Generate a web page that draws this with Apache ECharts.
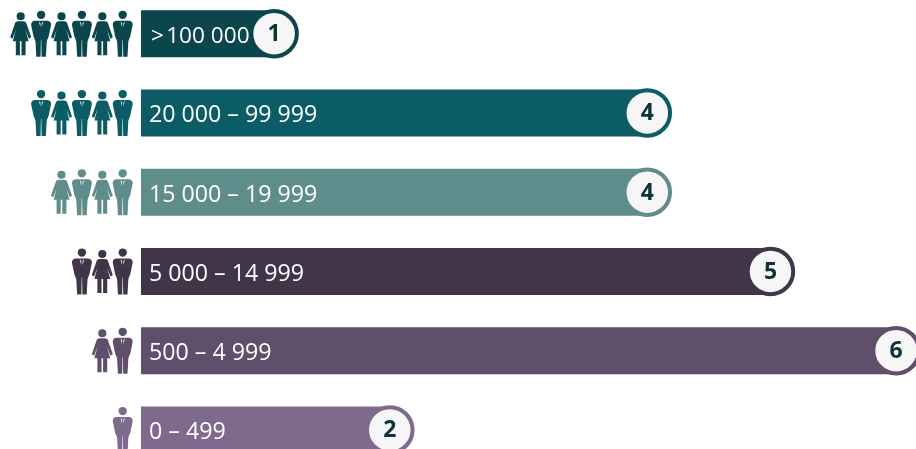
<!DOCTYPE html>
<html><head><meta charset="utf-8">
<style>html,body{margin:0;padding:0;background:#fff;overflow:hidden}#c{width:916px;height:449px}</style>
<script src="https://cdn.jsdelivr.net/npm/echarts@6/dist/echarts.min.js"></script>
</head><body><div id="c"></div>
<script>
const categories = ['>\u200a100 000', '20 000 – 99 999', '15 000 – 19 999', '5 000 – 14 999', '500 – 4 999', '0 – 499'];
const counts = [1, 4, 4, 5, 6, 2];
const barLengths = [1.07, 4.07, 4.07, 5.06, 6.07, 2.0];
const iconCounts = [6, 5, 4, 3, 2, 1];
const colors = ['#0b464c', '#0b5c65', '#5f8d8c', '#41354a', '#5f4f6b', '#7f6a8e'];

const ICON_STEP = 0.164, ICON_START = -0.147;
const MAN = 'path://M10,0A4.2,4.2,0,1,1,9.99,0ZM3.5,10L16.5,10Q20,10.5,20,14L17.5,26Q16,29,15.6,31L14.8,46L10.5,46L10.2,29L9.8,29L9.5,46L5.2,46L4.4,31Q4,29,2.5,26L0,14Q0,10.5,3.5,10ZM7.8,10.6L9.3,16.5L9.3,12.5ZM12.2,10.6L10.7,12.5L10.7,16.5Z';
const WOMAN = 'path://M10.5,0A4.1,4.1,0,1,1,10.49,0ZM7.5,9L13.5,9Q15.2,9,16,10.5L21,25L18.7,26.5L15.4,17.5L18.4,29L15.4,29L15.4,43L11.3,43L11.3,29L9.7,29L9.7,43L5.6,43L5.6,29L2.6,29L5.6,17.5L2.3,26.5L0,25L5,10.5Q5.8,9,7.5,9Z';

const iconData = [];
iconCounts.forEach((n, row) => {
  for (let i = 0; i < n; i++) {
    const isMan = i % 2 === 0;
    iconData.push({
      value: [ICON_START - i * ICON_STEP, row],
      symbol: isMan ? MAN : WOMAN,
      symbolSize: isMan ? [20, 46] : [21, 43],
      itemStyle: { color: colors[row], opacity: 1 }
    });
  }
});

const chart = echarts.init(document.getElementById('c'), null, { renderer: 'canvas' });
chart.setOption({
  animation: false,
  backgroundColor: '#ffffff',
  grid: { left: 0, right: 0, top: -6, height: 475.5, containLabel: false, outerBoundsMode: 'none' },
  xAxis: { type: 'value', min: -1.1334, max: 6.23, show: false },
  yAxis: { type: 'category', inverse: true, data: categories, show: false },
  series: [
    {
      type: 'bar', barWidth: 47, silent: true, z: 2,
      data: barLengths.map((v, i) => ({
        value: v,
        itemStyle: { color: colors[i] },
        label: i === 0 ? { distance: 10, fontSize: 22.6 } : {}
      })),
      label: {
        show: true, position: 'insideLeft', distance: 8, offset: [0, 3],
        formatter: p => categories[p.dataIndex],
        color: '#ffffff', fontFamily: 'Open Sans', fontSize: 23.2
      }
    },
    {
      type: 'scatter', silent: true, z: 3, symbol: 'circle', symbolSize: 45.5,
      data: barLengths.map((v, i) => ({
        value: [v, i, counts[i]],
        itemStyle: { color: '#f6f6f6', borderColor: colors[i], borderWidth: 4, opacity: 1 }
      })),
      label: {
        show: true, position: 'inside', offset: [0, 1],
        formatter: p => String(p.value[2]),
        color: '#0d3338', fontFamily: 'Open Sans', fontWeight: 'bold', fontSize: 23
      }
    },
    { type: 'scatter', silent: true, z: 3, data: iconData }
  ]
});
</script></body></html>
